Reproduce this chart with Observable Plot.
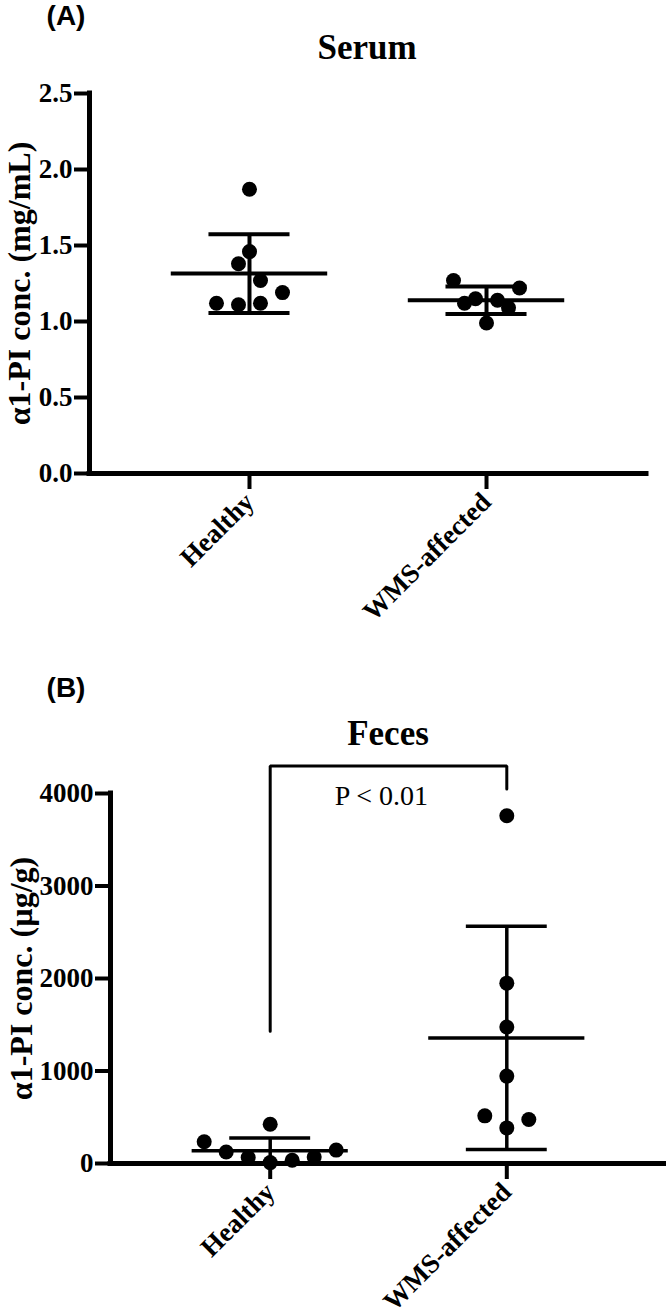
<!DOCTYPE html>
<html>
<head>
<meta charset="utf-8">
<script src="https://cdn.jsdelivr.net/npm/d3@7"></script>
<script src="https://cdn.jsdelivr.net/npm/@observablehq/plot@0.6"></script>
<style>
  html, body { margin: 0; padding: 0; background: #fff; }
  #root { position: relative; width: 666px; height: 1316px; background: #fff; overflow: hidden; }
  .abs { position: absolute; white-space: nowrap; transform: translate(-50%, -50%); color: #000; line-height: 1; }
  .panel { font-family: "Liberation Sans", Arial, sans-serif; font-weight: bold; font-size: 28px; }
  .title { font-family: "Liberation Serif", "Times New Roman", serif; font-weight: bold; font-size: 35px; }
  .plot { position: absolute; left: 0; }
</style>
</head>
<body>
<div id="root"></div>
<script>
// ---------- data ----------
const groups = ["Healthy", "WMS-affected"];
const serumHealthy = [1.87, 1.46, 1.27, 1.38, 1.12, 1.11, 1.19, 1.12];
const serumWMS = [0.99, 1.09, 1.12, 1.14, 1.15, 1.22, 1.27];
const fecesHealthy = [10, 35, 65, 70, 125, 145, 235, 425];
const fecesWMS = [385, 475, 515, 945, 1475, 1950, 3760];
const serumTicks = [0, 0.5, 1.0, 1.5, 2.0, 2.5];
const fecesTicks = [0, 1000, 2000, 3000, 4000];
const serumYLabel = "α1-PI conc. (mg/mL)";
const fecesYLabel = "α1-PI conc. (µg/g)";
const panelLabels = ["(A)", "(B)"];
const panelTitles = ["Serum", "Feces"];
const bracketGroup = [0, 0, 1, 1];
const bracketValue = [1430, 4296, 4296, 4050];
const pText = "P < 0.01";
const pTextGroup = 0.47;
const pTextValue = 3975;

// ---------- helpers ----------
const SERIF = "'Liberation Serif', 'Times New Roman', serif";
const xDomain = [-0.675, 1.675];

// GraphPad-like scatter: points binned by value, spread symmetrically within a bin
function swarm(values, binUnits, stepUnits) {
  const idx = d3.range(values.length).sort((a, b) => values[a] - values[b] || a - b);
  const off = new Array(values.length).fill(0);
  let k = 0;
  while (k < idx.length) {
    const start = values[idx[k]];
    const bin = [];
    while (k < idx.length && values[idx[k]] - start < binUnits) bin.push(idx[k++]);
    bin.sort((a, b) => a - b);
    const n = bin.length;
    bin.forEach((j, m) => {
      let slot;
      if (n % 2) slot = m === 0 ? 0 : (m % 2 ? (m + 1) / 2 : -m / 2);
      else slot = (m % 2 ? -1 : 1) * (Math.floor(m / 2) + 0.5);
      off[j] = slot * stepUnits;
    });
  }
  return off;
}

function makePanel(cfg) {
  const {series, ticks, fmt, yLabel, height, mt, mb, ml, mr, barW, extra} = cfg;
  const plotH = height - mt - mb;
  const plotW = 666 - ml - mr;
  const yMax = ticks[ticks.length - 1];
  const pxPerY = plotH / yMax;
  const pxPerX = plotW / (xDomain[1] - xDomain[0]);
  const rows = [];
  const stats = [];
  series.forEach((vals, g) => {
    const off = swarm(vals, 22 / pxPerY, 22 / pxPerX);
    vals.forEach((v, j) => rows.push({g, v, x: g + off[j]}));
    stats.push({i: g, mean: d3.mean(vals), sd: d3.deviation(vals)});
  });
  const meanHalf = 0.33, capHalf = 0.171;
  return Plot.plot({
    width: 666,
    height,
    marginTop: mt,
    marginBottom: mb,
    marginLeft: ml,
    marginRight: mr,
    x: {domain: xDomain, axis: null},
    y: {domain: [0, yMax], axis: null},
    style: {fontFamily: SERIF, background: "white", color: "black", overflow: "visible"},
    marks: [
      Plot.axisY({ticks, tickFormat: fmt, tickSize: 15, tickPadding: 2, strokeWidth: 4,
        fontSize: 27, fontWeight: "bold", fontFamily: SERIF, label: null}),
      Plot.axisX({ticks: [0, 1], tickFormat: i => groups[i], tickSize: 16, tickPadding: 8,
        strokeWidth: 4, tickRotate: -45, fontSize: 27, fontWeight: "bold", fontFamily: SERIF, label: null}),
      Plot.ruleX([xDomain[0]], {strokeWidth: 5, strokeLinecap: "square"}),
      Plot.ruleY([0], {strokeWidth: 5, strokeLinecap: "square"}),
      Plot.ruleX(stats, {x: "i", y1: d => d.mean - d.sd, y2: d => d.mean + d.sd, strokeWidth: barW}),
      Plot.ruleY(stats, {y: "mean", x1: d => d.i - meanHalf, x2: d => d.i + meanHalf, strokeWidth: barW}),
      Plot.ruleY(stats, {y: d => d.mean + d.sd, x1: d => d.i - capHalf, x2: d => d.i + capHalf, strokeWidth: barW}),
      Plot.ruleY(stats, {y: d => d.mean - d.sd, x1: d => d.i - capHalf, x2: d => d.i + capHalf, strokeWidth: barW}),
      Plot.dot(rows, {x: "x", y: "v", r: 7.5, fill: "black", stroke: null}),
      Plot.text([yLabel], {frameAnchor: "left", dx: cfg.labelX - ml, rotate: -90, text: d => d,
        fontSize: 32, fontWeight: "bold", fontFamily: SERIF, textAnchor: "middle", lineAnchor: "middle"}),
      ...(extra || [])
    ]
  });
}

const root = document.getElementById("root");

function addText(cls, text, x, y) {
  const d = document.createElement("div");
  d.className = "abs " + cls;
  d.textContent = text;
  d.style.left = x + "px";
  d.style.top = y + "px";
  root.appendChild(d);
}

// Panel A
const svgA = makePanel({
  series: [serumHealthy, serumWMS], ticks: serumTicks, fmt: d3.format(".1f"),
  yLabel: serumYLabel, height: 640, mt: 93, mb: 167, ml: 89, mr: 20, barW: 4, labelX: 19
});
svgA.classList.add("plot");
svgA.style.top = "0px";
root.appendChild(svgA);

// Panel B
const bracket = bracketGroup.map((g, i) => ({g, v: bracketValue[i]}));
const svgB = makePanel({
  series: [fecesHealthy, fecesWMS], ticks: fecesTicks, fmt: d3.format("d"),
  yLabel: fecesYLabel, height: 676, mt: 153, mb: 153, ml: 110, mr: 0, barW: 3.5, labelX: 21,
  extra: [
    Plot.line(bracket, {x: "g", y: "v", strokeWidth: 3, strokeLinejoin: "miter"}),
    Plot.text([pText], {x: pTextGroup, y: pTextValue, text: d => d, fontSize: 28, fontWeight: "normal",
      fontFamily: SERIF, textAnchor: "middle", lineAnchor: "middle"})
  ]
});
svgB.classList.add("plot");
svgB.style.top = "640px";
root.appendChild(svgB);

addText("panel", panelLabels[0], 66, 16);
addText("panel", panelLabels[1], 66, 688);
addText("title", panelTitles[0], 367, 47);
addText("title", panelTitles[1], 388, 733);
</script>
</body>
</html>
